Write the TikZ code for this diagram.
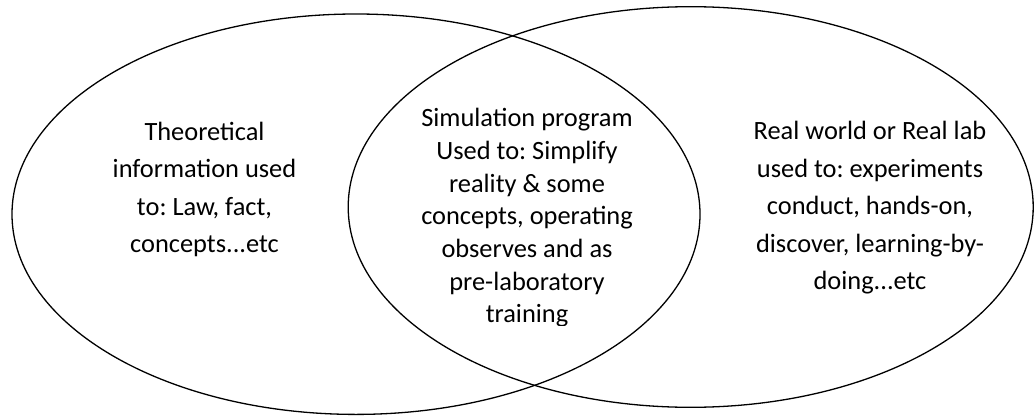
\documentclass[tikz,border=0pt]{standalone}
\usepackage{fontspec}
\setmainfont{Carlito}
\usepackage{xcolor}

\begin{document}
\begin{tikzpicture}[x=1pt,y=1pt,line width=1.3pt,
   venn/.style={draw=black},
   txt/.style={align=center,inner sep=0pt,anchor=base,
      font=\fontsize{26.4}{37.6}\selectfont\frenchspacing},
   txtmid/.style={txt,font=\fontsize{26.4}{32.7}\selectfont\frenchspacing}]
   \useasboundingbox (0,0) rectangle (1035,416);
   % fixed points
   \coordinate (L) at (356,201.8);
   \coordinate (R) at (690.7,209);
   % sets
   \draw[venn] (L) ellipse [x radius=344,y radius=200.2];
   \draw[venn] (R) ellipse [x radius=342.5,y radius=200.3];
   % labels (anchored on the last line)
   \node[txt] (theory) at (204.5,163.2)
      {Theoretical\\information used\\to: Law, fact,\\concepts...etc};
   \begin{scope}
      \clip (400,91) rectangle (660,330);
      \node[txtmid] (simul) at (527,93.1)
         {Simulation program\\Used to: Simplify\\reality \& some\\concepts, operating\\observes and as\\pre-laboratory\\training};
   \end{scope}
   \node[txt] (reallab) at (870,126.1)
      {Real world or Real lab\\used to: experiments\\conduct, hands-on,\\discover, learning-by-\\doing...etc};
\end{tikzpicture}
\end{document}
